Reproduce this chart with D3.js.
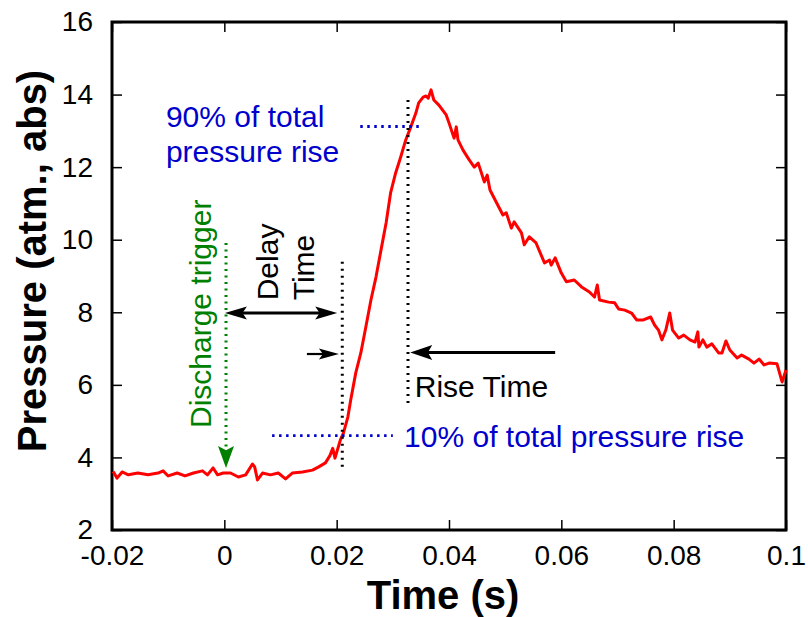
<!DOCTYPE html>
<html>
<head>
<meta charset="utf-8">
<script src="https://cdn.jsdelivr.net/npm/d3@7/dist/d3.min.js"></script>
<style>
  body { margin: 0; background: #fff; }
  svg { font-family: Arial, "Liberation Sans", sans-serif; }
  .tick text { font-size: 28px; fill: #000; }
  .tick line { stroke: #000; stroke-width: 1.5; }
  .note { font-size: 30px; }
</style>
</head>
<body>
<script>
// pressure trace
const times = [
  -0.0198, -0.0191, -0.0182, -0.0171, -0.0154, -0.0136, -0.0118, -0.0109, -0.0100, -0.0084,
  -0.0070, -0.0055, -0.0039, -0.0030, -0.0020, -0.0012, -0.0002, 0.0011, 0.0025, 0.0038,
  0.0050, 0.0054, 0.0059, 0.0068, 0.0082, 0.0096, 0.0109, 0.0121, 0.0139, 0.0157,
  0.0168, 0.0180, 0.0188, 0.0193, 0.0197, 0.0207, 0.0212, 0.0220, 0.0225, 0.0234,
  0.0243, 0.0252, 0.0261, 0.0270, 0.0279, 0.0288, 0.0296, 0.0305, 0.0314, 0.0323,
  0.0332, 0.0341, 0.0346, 0.0354, 0.0359, 0.0363, 0.0368, 0.0373, 0.0382, 0.0395,
  0.0400, 0.0409, 0.0413, 0.0416, 0.0425, 0.0436, 0.0445, 0.0452, 0.0463, 0.0468,
  0.0473, 0.0484, 0.0496, 0.0502, 0.0511, 0.0516, 0.0529, 0.0534, 0.0543, 0.0555,
  0.0570, 0.0579, 0.0582, 0.0589, 0.0600, 0.0609, 0.0623, 0.0636, 0.0650, 0.0659,
  0.0664, 0.0668, 0.0684, 0.0695, 0.0702, 0.0713, 0.0725, 0.0734, 0.0746, 0.0759,
  0.0766, 0.0773, 0.0779, 0.0786, 0.0793, 0.0798, 0.0809, 0.0818, 0.0829, 0.0838,
  0.0843, 0.0845, 0.0852, 0.0859, 0.0868, 0.0880, 0.0886, 0.0893, 0.0900, 0.0913,
  0.0921, 0.0934, 0.0943, 0.0952, 0.0961, 0.0970, 0.0984, 0.0993, 0.1000
];
const pressures = [
  3.61, 3.43, 3.60, 3.52, 3.57, 3.52, 3.57, 3.63, 3.49, 3.57,
  3.49, 3.57, 3.63, 3.52, 3.71, 3.52, 3.57, 3.57, 3.46, 3.52,
  3.82, 3.74, 3.38, 3.57, 3.52, 3.57, 3.41, 3.57, 3.60, 3.65,
  3.74, 3.85, 4.05, 4.25, 3.98, 4.50, 4.67, 5.12, 5.58, 6.33,
  6.88, 7.60, 8.34, 8.97, 9.72, 10.46, 11.29, 11.84, 12.28, 12.75,
  13.11, 13.49, 13.77, 13.93, 13.96, 13.90, 14.13, 13.85, 13.71, 13.44,
  13.22, 12.80, 13.11, 12.75, 12.47, 12.20, 12.00, 12.11, 11.59, 11.78,
  11.37, 11.04, 10.68, 10.74, 10.32, 10.49, 10.19, 9.86, 10.08, 9.91,
  9.36, 9.44, 9.30, 9.50, 9.08, 8.84, 8.89, 8.70, 8.56, 8.42,
  8.75, 8.34, 8.28, 8.26, 8.09, 8.06, 7.98, 7.79, 7.79, 7.87,
  7.65, 7.51, 7.24, 7.51, 7.98, 7.51, 7.29, 7.37, 7.24, 7.18,
  7.46, 7.04, 7.24, 7.04, 7.13, 6.88, 6.88, 7.21, 6.96, 6.74,
  6.82, 6.71, 6.60, 6.71, 6.55, 6.60, 6.58, 6.08, 6.41
];

const xTicks = [-0.02, 0, 0.02, 0.04, 0.06, 0.08, 0.1];
const xTickLabels = ["-0.02", "0", "0.02", "0.04", "0.06", "0.08", "0.1"];
const yTicks = [2, 4, 6, 8, 10, 12, 14, 16];

// annotation anchors, in data units
const triggerTime = 0.0003;
const delayEnd = 0.021;
const riseEnd = 0.0327;
const p10 = 4.6;
const p90 = 13.12;

const width = 808, height = 617;
const margin = {left: 112, right: 22, top: 22, bottom: 87};

const x = d3.scaleLinear().domain([-0.02, 0.1]).range([margin.left, width - margin.right]);
const y = d3.scaleLinear().domain([2, 16]).range([height - margin.bottom, margin.top]);

const svg = d3.select("body").append("svg")
  .attr("width", width)
  .attr("height", height);

// axes, ticks pointing inward
svg.append("g")
  .attr("transform", "translate(0," + y(2) + ")")
  .call(d3.axisBottom(x).tickValues(xTicks).tickSize(-10).tickSizeOuter(0).tickPadding(15)
    .tickFormat((d, i) => xTickLabels[i]))
  .call(g => g.select(".domain").remove());

svg.append("g")
  .attr("transform", "translate(0," + y(16) + ")")
  .call(d3.axisTop(x).tickValues(xTicks).tickSize(-10).tickSizeOuter(0).tickFormat(""))
  .call(g => g.select(".domain").remove());

svg.append("g")
  .attr("transform", "translate(" + x(-0.02) + ",0)")
  .call(d3.axisLeft(y).tickValues(yTicks).tickSize(-10).tickSizeOuter(0).tickPadding(19)
    .tickFormat(d3.format("d")))
  .call(g => g.select(".domain").remove());

svg.append("g")
  .attr("transform", "translate(" + x(0.1) + ",0)")
  .call(d3.axisRight(y).tickValues(yTicks).tickSize(-10).tickSizeOuter(0).tickFormat(""))
  .call(g => g.select(".domain").remove());

svg.append("rect")
  .attr("x", x(-0.02))
  .attr("y", y(16))
  .attr("width", x(0.1) - x(-0.02))
  .attr("height", y(2) - y(16))
  .attr("fill", "none")
  .attr("stroke", "#000")
  .attr("stroke-width", 3);

svg.selectAll(".tick text").attr("font-family", "Arial, 'Liberation Sans', sans-serif");

// axis titles
svg.append("text")
  .attr("x", 443)
  .attr("y", 609)
  .attr("text-anchor", "middle")
  .style("font-size", "40px")
  .style("font-weight", "bold")
  .text("Time (s)");

svg.append("text")
  .attr("transform", "translate(46," + 261 + ") rotate(-90)")
  .attr("text-anchor", "middle")
  .style("font-size", "40px")
  .style("font-weight", "bold")
  .text("Pressure (atm., abs)");

// the trace
const pts = times.map((t, i) => ({t: t, p: pressures[i]}));
const line = d3.line().x(d => x(d.t)).y(d => y(d.p));

svg.append("path")
  .datum(pts)
  .attr("fill", "none")
  .attr("stroke", "#ff0000")
  .attr("stroke-width", 3)
  .attr("stroke-linejoin", "round")
  .attr("d", line);

// dotted guide lines
function dotted(x1, y1, x2, y2, color, w, dash) {
  svg.append("line")
    .attr("x1", x(x1)).attr("y1", y(y1))
    .attr("x2", x(x2)).attr("y2", y(y2))
    .attr("stroke", color)
    .attr("stroke-width", w)
    .attr("stroke-dasharray", dash);
}

dotted(0.0085, p10, 0.0300, p10, "#0000cc", 2.8, "2.5,4.5");
dotted(0.0242, p90, 0.0352, p90, "#0000cc", 2.8, "2.5,4.5");
dotted(delayEnd, 9.39, delayEnd, 3.74, "#000", 3, "2,5");
dotted(riseEnd, 13.85, riseEnd, 5.45, "#000", 3, "2,5");
dotted(triggerTime, 9.91, triggerTime, 4.3, "#008000", 3, "2,4.5");

// arrows: tip in data units, direction in screen units
function head(tx, ty, dx, dy, len, half, color) {
  const px = x(tx), py = y(ty);
  const nx = -dy, ny = dx;
  const bx = px - dx * len, by = py - dy * len;
  const mx = px - dx * len * 0.8, my = py - dy * len * 0.8;
  svg.append("path")
    .attr("d", "M" + px + "," + py +
      "L" + (bx + nx * half) + "," + (by + ny * half) +
      "L" + mx + "," + my +
      "L" + (bx - nx * half) + "," + (by - ny * half) + "Z")
    .attr("fill", color);
}

function shaft(x1, y1, x2, y2, color, w) {
  svg.append("line")
    .attr("x1", x(x1)).attr("y1", y(y1))
    .attr("x2", x(x2)).attr("y2", y(y2))
    .attr("stroke", color)
    .attr("stroke-width", w);
}

// trigger arrow
head(triggerTime, 3.71, 0, 1, 22, 8, "#008000");

// delay double arrow
shaft(0.003, 7.98, 0.0175, 7.98, "#000", 2.8);
head(0.0001, 7.98, -1, 0, 22, 6.5, "#000");
head(0.0201, 7.98, 1, 0, 22, 6.5, "#000");

// small arrow to the delay line
shaft(0.0147, 6.85, 0.019, 6.85, "#000", 2.2);
head(0.0204, 6.85, 1, 0, 20, 5.5, "#000");

// rise time arrow
shaft(0.0350, 6.89, 0.0589, 6.89, "#000", 3);
head(0.0331, 6.89, -1, 0, 22, 7.5, "#000");

// texts
function note(tx, ty, str, color, rot) {
  const t = svg.append("text")
    .attr("class", "note")
    .attr("fill", color)
    .text(str);
  if (rot) {
    t.attr("transform", "translate(" + x(tx) + "," + y(ty) + ") rotate(-90)");
  } else {
    t.attr("x", x(tx)).attr("y", y(ty));
  }
}

note(-0.0024, 4.81, "Discharge trigger", "#008000", true);
note(0.0096, 8.33, "Delay", "#000", true);
note(0.0160, 8.33, "Time", "#000", true);
note(0.0339, 5.67, "Rise Time", "#000", false);
note(0.0320, 4.29, "10% of total pressure rise", "#0000cc", false);
note(-0.0104, 13.11, "90% of total", "#0000cc", false);
note(-0.0104, 12.14, "pressure rise", "#0000cc", false);
</script>
</body>
</html>
